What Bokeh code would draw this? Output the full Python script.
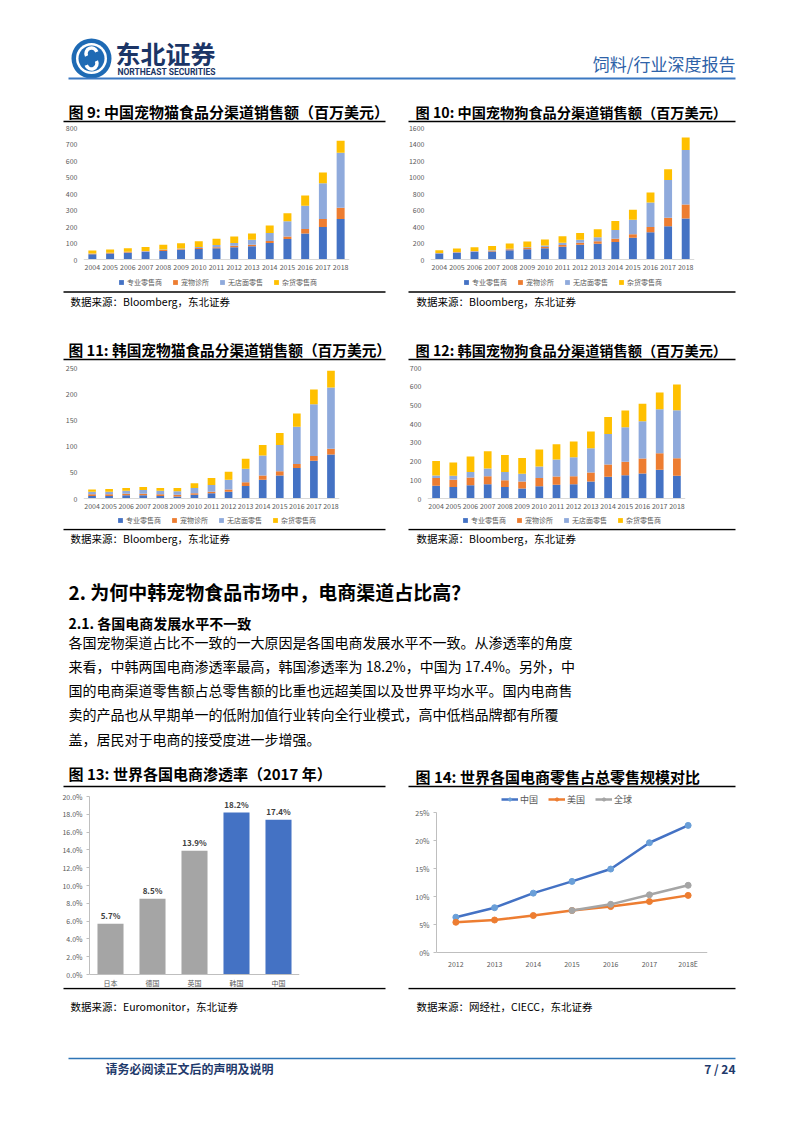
from bokeh.plotting import figure
from bokeh.models import (Range1d, ColumnDataSource, Legend, LegendItem,
                          NumeralTickFormatter, FixedTicker, FactorRange)
from bokeh.layouts import column, row
from bokeh.embed import file_html
from bokeh.resources import INLINE
from bokeh.core.properties import value

FONT = "Noto Sans CJK SC"

# ---------------- data ----------------
years = [str(y) for y in range(2004, 2019)]
channels = ["专业零售商", "宠物诊所", "无店面零售", "杂货零售商"]

cn_cat_specialist = [32, 36, 40, 45, 52, 57, 63, 68, 75, 80, 100, 125, 157, 197, 245]
cn_cat_vet = [3, 3, 4, 4, 5, 5, 6, 7, 8, 9, 12, 15, 28, 48, 69]
cn_cat_online = [2, 2, 3, 3, 4, 5, 7, 13, 17, 30, 48, 92, 141, 217, 333]
cn_cat_grocery = [17, 19, 21, 24, 29, 31, 34, 38, 40, 39, 46, 48, 62, 65, 73]

cn_dog_specialist = [72, 82, 90, 97, 112, 125, 135, 155, 178, 190, 213, 265, 330, 402, 498]
cn_dog_vet = [5, 6, 7, 9, 11, 13, 16, 20, 25, 30, 40, 40, 64, 104, 169]
cn_dog_online = [3, 4, 5, 6, 8, 10, 18, 28, 35, 50, 105, 177, 297, 459, 660]
cn_dog_grocery = [33, 41, 47, 53, 62, 69, 72, 78, 84, 96, 108, 121, 121, 128, 152]

kr_cat_specialist = [5, 5, 6, 6, 5, 4, 7, 10, 13, 24, 36, 44, 58, 72, 84]
kr_cat_vet = [3, 3, 3, 3, 3, 3, 3, 3, 4, 7, 8, 8, 8, 9, 11]
kr_cat_online = [5, 5, 6, 7, 7, 7, 10, 13, 19, 26, 38, 50, 71, 99, 117]
kr_cat_grocery = [4, 5, 5, 6, 5, 6, 9, 13, 15, 19, 20, 23, 25, 28, 32]

kr_dog_specialist = [68, 61, 71, 76, 61, 54, 65, 73, 76, 91, 116, 124, 133, 153, 122]
kr_dog_vet = [41, 39, 41, 43, 37, 37, 44, 45, 43, 48, 66, 72, 81, 89, 93]
kr_dog_online = [14, 21, 29, 41, 44, 41, 62, 90, 102, 130, 162, 185, 199, 235, 257]
kr_dog_grocery = [78, 71, 83, 93, 90, 85, 91, 82, 84, 89, 92, 89, 93, 89, 137]

countries = ["日本", "德国", "英国", "韩国", "中国"]
penetration = [0.057, 0.085, 0.139, 0.182, 0.174]

years14 = ["2012", "2013", "2014", "2015", "2016", "2017", "2018E"]
share_china = [0.063, 0.080, 0.106, 0.127, 0.149, 0.196, 0.227]
share_usa = [0.054, 0.058, 0.066, 0.075, 0.082, 0.091, 0.102]
share_world = [float("nan"), float("nan"), float("nan"), 0.075, 0.086, 0.103, 0.120]
series14 = ["中国", "美国", "全球"]

# ---------------- styles ----------------
STACK_COLORS = ["#4472C4", "#ED7D31", "#8FAADC", "#FFC000"]
GRAY_TXT = "#595959"
PAGE_W = 794


def band(y0, y1):
    p = figure(width=PAGE_W, height=y1 - y0, x_range=Range1d(0, PAGE_W),
               y_range=Range1d(y1, y0), toolbar_location=None,
               output_backend="svg", min_border=0, title=None,
               x_axis_type=None, y_axis_type=None)
    p.outline_line_color = None
    return p


def txt(p, x, y, s, size, color="#000000", bold=False, align="left", font=FONT):
    p.text(x=[x], y=[y], text=[s], text_font=value(font),
           text_font_size=value(f"{size}px"),
           text_font_style="bold" if bold else "normal",
           text_color=color, text_align=align, text_baseline="middle")


def hline(p, x0, x1, y, color="#000000", w=1.5):
    p.segment(x0=[x0], y0=[y], x1=[x1], y1=[y], line_color=color, line_width=w)


def y_window(vmax, frame_top, frame_bottom, px_max, px_zero):
    """Range so that 0 sits at page row px_zero and vmax at px_max."""
    scale = (px_zero - px_max) / vmax
    return Range1d(-(frame_bottom - px_zero) / scale, vmax + (px_max - frame_top) / scale)


def style_axes(p):
    p.xgrid.visible = False
    p.ygrid.visible = False
    p.outline_line_color = None
    for ax in (p.xaxis, p.yaxis):
        ax.major_label_text_font = FONT
        ax.major_label_text_font_size = "7px"
        ax.major_label_text_color = GRAY_TXT
        ax.minor_tick_line_color = None
    p.xaxis.fixed_location = 0
    p.xaxis.major_tick_out = 0
    p.xaxis.major_tick_in = 0


def chart_fig(xfactors, yrange, w, h, bl, br, bt):
    return figure(x_range=FactorRange(*xfactors), y_range=yrange, width=w, height=h,
                  min_border_left=bl, min_border_right=br, min_border_top=bt,
                  min_border_bottom=0, toolbar_location=None, output_backend="svg",
                  title=None)


def stacked_chart(cols, ymax, step, page_top, page_bottom, px_max, px_zero,
                  w, bl, br, leg_x):
    bt = 2
    yr = y_window(ymax, page_top + bt, page_bottom, px_max, px_zero)
    p = chart_fig(years, yr, w, page_bottom - page_top, bl, br, bt)
    src = ColumnDataSource(dict(year=years, s0=cols[0], s1=cols[1], s2=cols[2], s3=cols[3]))
    rs = p.vbar_stack(["s0", "s1", "s2", "s3"], x="year", width=0.45,
                      fill_color=STACK_COLORS, line_color=None, source=src)
    style_axes(p)
    p.yaxis.ticker = FixedTicker(ticks=list(range(0, ymax + 1, step)))
    p.yaxis.axis_line_color = None
    p.yaxis.major_tick_line_color = None
    p.yaxis.major_tick_out = 0
    p.yaxis.major_label_standoff = 6
    p.xaxis.axis_line_color = "#D9D9D9"
    p.xaxis.major_tick_line_color = None
    p.xaxis.major_label_standoff = 4
    leg = Legend(items=[LegendItem(label=channels[i], renderers=[rs[i]]) for i in range(4)],
                 orientation="horizontal", location=(leg_x, 3.5))
    leg.label_text_font = FONT
    leg.label_text_font_size = "7px"
    leg.label_text_color = GRAY_TXT
    leg.glyph_width = 6
    leg.glyph_height = 6
    leg.label_height = 8
    leg.label_standoff = 3
    leg.spacing = 10
    leg.padding = 2
    leg.margin = 0
    leg.border_line_color = None
    leg.background_fill_alpha = 0
    p.add_layout(leg)
    return p


# ---------------- header band (page y 0-123) ----------------
A = band(0, 123)
A.scatter(x=[91], y=[58], size=40, marker="circle", fill_color="#1E6AB4", line_color=None)
A.scatter(x=[91], y=[58], size=31, marker="circle", fill_color="#FFFFFF", line_color=None)
A.scatter(x=[91], y=[58], size=26, marker="circle", fill_color="#1E6AB4", line_color=None)
A.arc(x=[91], y=[53], radius=5.5, start_angle=0.3, end_angle=3.6, line_color="#FFFFFF", line_width=3.5)
A.arc(x=[91], y=[63], radius=5.5, start_angle=3.44, end_angle=6.74, line_color="#FFFFFF", line_width=3.5)
txt(A, 115, 52, "东北证券", 25, color="#1B3566", bold=True)
txt(A, 117, 71, "NORTHEAST SECURITIES", 8.5, color="#1B3566", bold=True, font="Roboto")
txt(A, 735, 63, "饲料/行业深度报告", 17, color="#2E62A8", align="right")
hline(A, 68, 735, 78, color="#3B78C2", w=2)
txt(A, 68, 111, "图 9:   中国宠物猫食品分渠道销售额（百万美元）", 15, bold=True)
txt(A, 415, 111, "图 10: 中国宠物狗食品分渠道销售额（百万美元）", 14.2, bold=True)
hline(A, 63, 385, 121)
hline(A, 408, 735, 121)

# ---------------- chart row 1 (123-290) ----------------
f9 = stacked_chart([cn_cat_specialist, cn_cat_vet, cn_cat_online, cn_cat_grocery],
                   800, 100, 123, 290, 127, 259, 400, 83, 51, 35)
f10 = stacked_chart([cn_dog_specialist, cn_dog_vet, cn_dog_online, cn_dog_grocery],
                    1600, 200, 123, 290, 127, 259, 394, 30, 100, 33)

# ---------------- band C (290-362) ----------------
C = band(290, 362)
hline(C, 63, 385, 291.5)
hline(C, 408, 735, 291.5)
txt(C, 70, 301, "数据来源：Bloomberg，东北证券", 10.5)
txt(C, 416, 301, "数据来源：Bloomberg，东北证券", 10.5)
txt(C, 68, 349, "图 11: 韩国宠物猫食品分渠道销售额（百万美元）", 14.7, bold=True)
txt(C, 415, 349, "图 12: 韩国宠物狗食品分渠道销售额（百万美元）", 14.2, bold=True)
hline(C, 63, 385, 359)
hline(C, 408, 735, 359)

# ---------------- chart row 2 (362-528) ----------------
f11 = stacked_chart([kr_cat_specialist, kr_cat_vet, kr_cat_online, kr_cat_grocery],
                    250, 50, 362, 528, 367, 498, 400, 83, 61, 34)
f12 = stacked_chart([kr_dog_specialist, kr_dog_vet, kr_dog_online, kr_dog_grocery],
                    700, 100, 362, 528, 367, 498, 394, 27, 109, 35)

# ---------------- band E (528-790) ----------------
E = band(528, 790)
hline(E, 63, 385, 529)
hline(E, 408, 735, 529)
txt(E, 70, 538, "数据来源：Bloomberg，东北证券", 10.5)
txt(E, 416, 538, "数据来源：Bloomberg，东北证券", 10.5)
txt(E, 68, 591, "2.  为何中韩宠物食品市场中，电商渠道占比高？", 19, bold=True)
txt(E, 68, 622, "2.1. 各国电商发展水平不一致", 14, bold=True)
para = [
    "各国宠物渠道占比不一致的一大原因是各国电商发展水平不一致。从渗透率的角度",
    "来看，中韩两国电商渗透率最高，韩国渗透率为 18.2%，中国为 17.4%。另外，中",
    "国的电商渠道零售额占总零售额的比重也远超美国以及世界平均水平。国内电商售",
    "卖的产品也从早期单一的低附加值行业转向全行业模式，高中低档品牌都有所覆",
    "盖，居民对于电商的接受度进一步增强。",
]
for i, line in enumerate(para):
    txt(E, 68, 641 + i * 24.3, line, 14)
txt(E, 68, 773, "图 13: 世界各国电商渗透率（2017 年）", 15, bold=True)
txt(E, 415, 776, "图 14: 世界各国电商零售占总零售规模对比", 15, bold=True)
hline(E, 63, 385, 786)
hline(E, 408, 735, 786)

# ---------------- chart row 3 (790-987) ----------------
R3_TOP, R3_BOT, R3_BT = 790, 987, 2
src13 = ColumnDataSource(dict(c=countries, v=penetration,
                              color=["#A5A5A5", "#A5A5A5", "#A5A5A5", "#4472C4", "#4472C4"],
                              label=[f"{v * 100:.1f}%" for v in penetration]))
f13 = chart_fig(countries, y_window(0.20, R3_TOP + R3_BT, R3_BOT, 796, 974),
                400, R3_BOT - R3_TOP, 89, 101, R3_BT)
f13.vbar(x="c", top="v", width=0.62, fill_color="color", line_color=None, source=src13)
f13.text(x="c", y="v", text="label", source=src13, text_font=value(FONT),
         text_font_size=value("8px"), text_font_style="bold", text_color="#404040",
         text_align="center", text_baseline="bottom", y_offset=-3)
style_axes(f13)
f13.yaxis.ticker = FixedTicker(ticks=[i / 100 for i in range(0, 21, 2)])
f13.yaxis.formatter = NumeralTickFormatter(format="0.0%")
f13.yaxis.bounds = (0, 0.20)
f13.yaxis.axis_line_color = "#BFBFBF"
f13.yaxis.major_tick_line_color = "#BFBFBF"
f13.yaxis.major_tick_out = 3
f13.yaxis.major_tick_in = 0
f13.yaxis.major_label_standoff = 4
f13.xaxis.axis_line_color = "#BFBFBF"
f13.xaxis.major_tick_line_color = None
f13.xaxis.major_label_standoff = 3

src14 = ColumnDataSource(dict(year=years14, cn=share_china, us=share_usa, gl=share_world))
f14 = chart_fig(years14, y_window(0.25, R3_TOP + R3_BT, R3_BOT, 812, 952),
                394, R3_BOT - R3_TOP, 36, 87, R3_BT)
items = []
for col, lc, mc, name in [("cn", "#4472C4", "#6A9FD8", series14[0]),
                          ("us", "#ED7D31", "#ED7D31", series14[1]),
                          ("gl", "#A5A5A5", "#A5A5A5", series14[2])]:
    lr = f14.line(x="year", y=col, source=src14, line_color=lc, line_width=2.5)
    sr = f14.scatter(x="year", y=col, source=src14, size=6, marker="circle",
                     fill_color=mc, line_color=mc)
    items.append(LegendItem(label=name, renderers=[lr, sr]))
style_axes(f14)
f14.yaxis.ticker = FixedTicker(ticks=[0, 0.05, 0.10, 0.15, 0.20, 0.25])
f14.yaxis.formatter = NumeralTickFormatter(format="0%")
f14.yaxis.bounds = (0, 0.25)
f14.yaxis.axis_line_color = "#BFBFBF"
f14.yaxis.major_tick_line_color = "#BFBFBF"
f14.yaxis.major_tick_out = 3
f14.yaxis.major_tick_in = 0
f14.yaxis.major_label_standoff = 4
f14.xaxis.axis_line_color = "#BFBFBF"
f14.xaxis.major_tick_line_color = None
f14.xaxis.major_label_standoff = 6
leg14 = Legend(items=items, orientation="horizontal", location=(65, 181.5))
leg14.label_text_font = FONT
leg14.label_text_font_size = "9px"
leg14.label_text_color = GRAY_TXT
leg14.glyph_width = 17
leg14.glyph_height = 8
leg14.label_height = 10
leg14.label_standoff = 2
leg14.spacing = 8
leg14.padding = 1
leg14.margin = 0
leg14.border_line_color = None
leg14.background_fill_alpha = 0
f14.add_layout(leg14)

# ---------------- footer band (987-1125) ----------------
G = band(987, 1125)
hline(G, 63, 385, 988)
hline(G, 408, 735, 988)
txt(G, 70, 1006, "数据来源：Euromonitor，东北证券", 10.5)
txt(G, 416, 1006, "数据来源：网经社，CIECC，东北证券", 10.5)
hline(G, 68, 735, 1058, color="#2E75B6", w=1.5)
txt(G, 105, 1068, "请务必阅读正文后的声明及说明", 12, color="#1F3A6B", bold=True)
txt(G, 735, 1068, "7 / 24", 12, color="#1F3A6B", bold=True, align="right")

page = column(A, row(f9, f10, spacing=0), C, row(f11, f12, spacing=0), E,
              row(f13, f14, spacing=0), G, spacing=0)

open("out.html", "w").write(file_html(page, INLINE))
